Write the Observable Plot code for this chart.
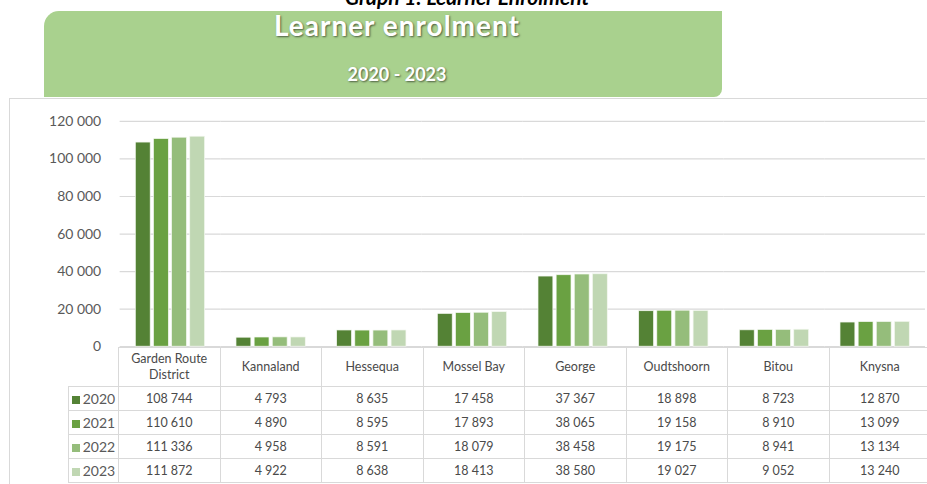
<!DOCTYPE html>
<html>
<head>
<meta charset="utf-8">
<script src="https://cdn.jsdelivr.net/npm/d3@7"></script>
<script src="https://cdn.jsdelivr.net/npm/@observablehq/plot@0.6"></script>
<style>
html, body { margin: 0; padding: 0; background: #fff; }
body { width: 927px; height: 484px; overflow: hidden; position: relative; font-family: Lato, "Open Sans", sans-serif; }
#frame { position: absolute; left: 9px; top: 98px; width: 1000px; height: 500px; border-left: 1px solid #d9d9d9; border-top: 1px solid #d9d9d9; }
#title { position: absolute; left: 0; width: 934px; top: -14px; text-align: center; font: italic bold 21px/21px Lato, sans-serif; color: #000; white-space: nowrap; }
#banner { position: absolute; left: 44px; top: 11px; width: 678px; height: 86px; background: #a9d18e; border-radius: 15px 0 8px 0; z-index: 2; }
.btext { position: absolute; left: 0; width: 794px; text-align: center; color: #fff; font-weight: bold; text-shadow: 1px 1px 2px rgba(0,0,0,0.55); z-index: 3; white-space: nowrap; }
#btitle { top: 11px; font-size: 28px; line-height: 28px; letter-spacing: 1px; }
#bsub { top: 65px; font-size: 18px; line-height: 19px; }
#chart { position: absolute; left: 0; top: 100px; }
#tbl { position: absolute; left: 68px; top: 347px; border-collapse: collapse; table-layout: fixed; font-family: Lato, sans-serif; color: #4a4a4a; }
#tbl td { border: 1px solid #d9d9d9; text-align: center; padding: 0; font-size: 12.5px; height: 23px; line-height: 14px; }
#tbl tr.head td { height: 38px; line-height: 16px; }
#tbl td.corner { border: none; }
#tbl td.yr { font-size: 14px; color: #595959; }
.sw { display: inline-block; width: 8px; height: 8px; margin-right: 3px; vertical-align: 0px; }
</style>
</head>
<body>
<div id="frame"></div>
<div id="title">Graph 1: Learner Enrolment</div>
<div id="banner"></div>
<div class="btext" id="btitle">Learner enrolment</div>
<div class="btext" id="bsub">2020 - 2023</div>
<div id="chart"></div>
<table id="tbl"></table>
<script>
const districts = ["Garden Route District", "Kannaland", "Hessequa", "Mossel Bay", "George", "Oudtshoorn", "Bitou", "Knysna"];
const districtLabels = ["Garden Route<br>District", "Kannaland", "Hessequa", "Mossel Bay", "George", "Oudtshoorn", "Bitou", "Knysna"];
const years = ["2020", "2021", "2022", "2023"];
const v2020 = [108744, 4793, 8635, 17458, 37367, 18898, 8723, 12870];
const v2021 = [110610, 4890, 8595, 17893, 38065, 19158, 8910, 13099];
const v2022 = [111336, 4958, 8591, 18079, 38458, 19175, 8941, 13134];
const v2023 = [111872, 4922, 8638, 18413, 38580, 19027, 9052, 13240];
const yTicks = [0, 20000, 40000, 60000, 80000, 100000, 120000];
const colors = ["#548235", "#6aa142", "#95bd7b", "#c0d7b3"];

const series = [v2020, v2021, v2022, v2023];
const data = years.flatMap((yr, i) => districts.map((d, j) => ({district: d, year: yr, value: series[i][j]})));
const fmt = v => d3.format(",")(v).replace(/,/g, " ");

const chart = Plot.plot({
  width: 930,
  height: 248,
  marginTop: 21,
  marginBottom: 1,
  marginLeft: 118,
  marginRight: 0,
  style: {fontFamily: "Lato, sans-serif", fontSize: "14px", color: "#595959", background: "transparent", overflow: "visible"},
  fx: {domain: districts, padding: 0, axis: null, label: null},
  x: {domain: years, paddingInner: 0.18, paddingOuter: 0.865, axis: null, round: false},
  y: {domain: [0, 120000], label: null},
  color: {domain: years, range: colors},
  marks: [
    Plot.gridY(yTicks, {stroke: "#d9d9d9", strokeOpacity: 1, strokeWidth: 1.2}),
    Plot.axisY(yTicks, {tickSize: 0, tickPadding: 19, tickFormat: fmt, label: null, fill: "#595959", fontSize: 14}),
    Plot.barY(data, {fx: "district", x: "year", y: "value", fill: "year", stroke: "#f4f8f1", strokeWidth: 0.7})
  ]
});
document.getElementById("chart").appendChild(chart);

// data table under the chart
const tbl = document.getElementById("tbl");
let html = '<colgroup><col style="width:50px">' + districts.map(() => '<col style="width:101.5px">').join("") + '</colgroup>';
html += '<tr class="head"><td class="corner"></td>' + districtLabels.map(d => `<td>${d}</td>`).join("") + '</tr>';
years.forEach((yr, i) => {
  html += `<tr><td class="yr"><span class="sw" style="background:${colors[i]}"></span>${yr}</td>` +
    series[i].map(v => `<td>${fmt(v)}</td>`).join("") + '</tr>';
});
tbl.innerHTML = html;
tbl.style.width = (50 + 101.5 * districts.length) + "px";
</script>
</body>
</html>
